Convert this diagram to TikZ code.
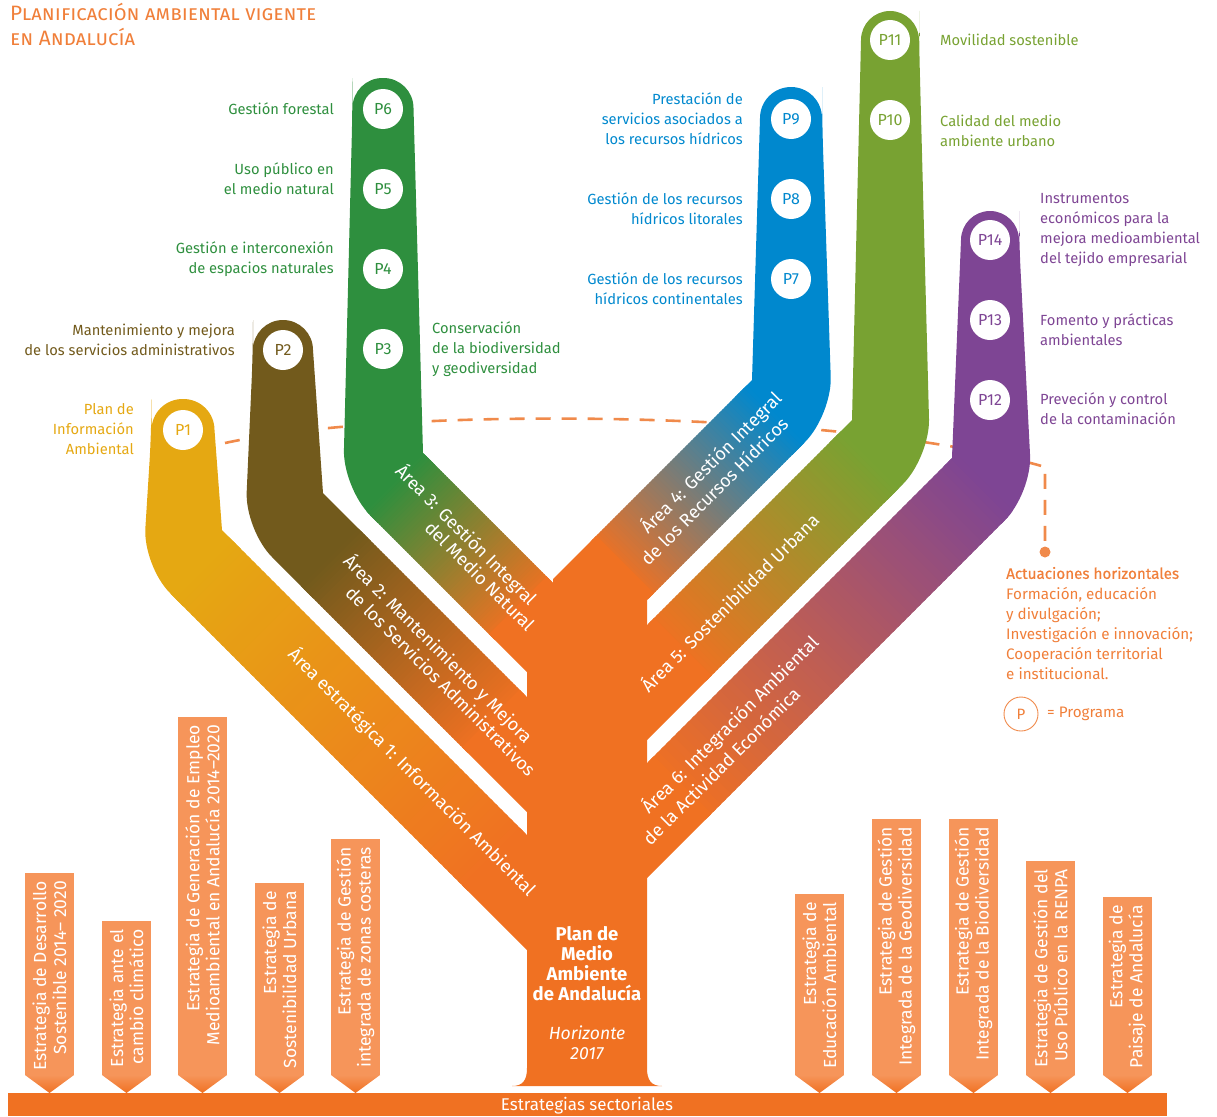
\documentclass[tikz,border=0pt]{standalone}
\usepackage{fontspec}
\setmainfont{Fira Sans}
\usetikzlibrary{calc}
\definecolor{cOr}{HTML}{F07122}
\definecolor{cYe}{HTML}{E5A812}
\definecolor{cBr}{HTML}{725A1C}
\definecolor{cGr}{HTML}{2E8F3E}
\definecolor{cBl}{HTML}{0088CE}
\definecolor{cOl}{HTML}{78A232}
\definecolor{cPu}{HTML}{7E4594}
\definecolor{cLt}{HTML}{F6955A}
\definecolor{cTi}{HTML}{F07F3A}
\definecolor{cDa}{HTML}{F08A4B}
\newcommand\bandgrad[5]{%
  \fill[#3] ($(#1)+(#4)+0.02*(#5)$) -- ($(#1)-(#4)+0.02*(#5)$) -- ($(#1)-(#4)-(#5)$) -- ($(#1)+(#4)-(#5)$) -- cycle;
  \foreach \i in {1,...,60}{%
    \pgfmathsetmacro\myta{(\i-1)/60}%
    \pgfmathsetmacro\mytb{min(1,(\i+0.5)/60)}%
    \pgfmathsetmacro\mypc{100-100*(\i-0.5)/60}%
    \fill[#3!\mypc!cOr] ($(#1)!\myta!(#2)+(#4)$) -- ($(#1)!\myta!(#2)-(#4)$) -- ($(#1)!\mytb!(#2)-(#4)$) -- ($(#1)!\mytb!(#2)+(#4)$) -- cycle;
  }%
  \fill[cOr] ($(#2)+(#4)-0.01*(#5)$) -- ($(#2)-(#4)-0.01*(#5)$) -- ($(#2)-(#4)+(#5)$) -- ($(#2)+(#4)+(#5)$) -- cycle;
}
\newcommand\stratbox[4]{%
  \fill[cLt] (#2,#3) rectangle ({#2+49},1075);
  \shade[top color=cLt, bottom color=cOr] (#2,1075) -- ({#2+49},1075) -- ({#2+24.5},1093) -- cycle;
  \node[strattxt] (#1) at ({#2+24.5},{#3+8}) {#4};
}
\begin{document}
\begin{tikzpicture}[x=1pt,y=-1pt,
  lbl/.style={font=\fontsize{14.7}{20}\selectfont, inner sep=0pt},
  lblL/.style={lbl, anchor=west, align=left},
  lblR/.style={lbl, anchor=east, align=right},
  pcirc/.style={circle, fill=white, minimum size=40pt, inner sep=0pt, font=\fontsize{16}{16}\selectfont},
  bandtxt/.style={text=white, font=\fontsize{18}{21}\selectfont, inner sep=0pt},
  strattxt/.style={text=white, rotate=90, anchor=east, align=right, font=\fontsize{17.5}{20}\selectfont, inner sep=0pt},
]
\useasboundingbox (0,0) rectangle (1217,1116);

% dashed guide line
\node[circle, fill=cDa, minimum size=11pt, inner sep=0pt] (dot) at (1045,552) {};
\coordinate (d0) at (225,443);
\coordinate (d1) at (1045,467);
\draw[cDa, line width=2.6pt, dash pattern=on 15pt off 11pt] (d0) .. controls (400,405) and (850,410) .. (d1) -- (dot.north);

% trunk
\fill[cOr] (527,590) -- (527,1068) .. controls (527,1080) and (523,1086) .. (512,1086) -- (662,1086) .. controls (651,1086) and (647,1080) .. (647,1068) -- (647,590) -- cycle;

% gradient anchors
\coordinate (a1) at (200,565); \coordinate (b1) at (497,862);
\coordinate (a2) at (330,557); \coordinate (b2) at (497,724);
\coordinate (a3) at (395,482); \coordinate (b3) at (524,611);
\coordinate (a4) at (775,414); \coordinate (b4) at (619,570);
\coordinate (a5) at (870,460); \coordinate (b5) at (677,653);
\coordinate (a6) at (985,483); \coordinate (b6) at (677,791);

% band 1
\begin{scope}
\clip (222,530) -- (214.5,430) [rounded corners=31pt] -- (214.5,399) -- (151.5,399) -- (151.5,430) [rounded corners=38pt] -- (143,566) [sharp corners] -- (535,958) -- (535,843) -- cycle;
\bandgrad{a1}{b1}{cYe}{300,-300}{600,600}
\end{scope}
% band 2
\begin{scope}
\clip (323,493) -- (313,350) [rounded corners=30pt] -- (313,320) -- (253,320) -- (253,350) [rounded corners=38pt] -- (245,530) [sharp corners] -- (535,820) -- (535,705) -- cycle;
\bandgrad{a2}{b2}{cBr}{300,-300}{600,600}
\end{scope}
% band 3
\begin{scope}
\clip (423,453) -- (413.5,108) [rounded corners=30pt] -- (413.5,78) -- (352.5,78) -- (352.5,108) [rounded corners=38pt] -- (343,488) [sharp corners] -- (553,698) -- (553,583) -- cycle;
\bandgrad{a3}{b3}{cGr}{300,-300}{600,600}
\end{scope}
% band 4
\begin{scope}
\clip (752,380) -- (760,118) [rounded corners=31pt] -- (760,87) -- (822,87) -- (822,118) [rounded corners=38pt] -- (832,415) [sharp corners] -- (553,694) -- (553,579) -- cycle;
\bandgrad{a4}{b4}{cBl}{300,300}{-600,600}
\end{scope}
% band 5
\begin{scope}
\clip (852,420) -- (861,40) [rounded corners=29pt] -- (861,11) -- (919,11) -- (919,40) [rounded corners=38pt] -- (930,457) [sharp corners] -- (639,748) -- (639,633) -- cycle;
\bandgrad{a5}{b5}{cOl}{300,300}{-600,600}
\end{scope}
% band 6
\begin{scope}
\clip (952,458) -- (961,240) [rounded corners=29pt] -- (961,211) -- (1019,211) -- (1019,240) [rounded corners=38pt] -- (1032,493) [sharp corners] -- (639,886) -- (639,771) -- cycle;
\bandgrad{a6}{b6}{cPu}{300,300}{-600,600}
\end{scope}

% programme circles
\node[pcirc, text=cYe] (p1) at (183,430) {P1};
\node[pcirc, text=cBr] (p2) at (283,350) {P2};
\node[pcirc, text=cGr] (p3) at (383,349) {P3};
\node[pcirc, text=cGr] (p4) at (383,269) {P4};
\node[pcirc, text=cGr] (p5) at (383,189) {P5};
\node[pcirc, text=cGr] (p6) at (383,109) {P6};
\node[pcirc, text=cBl] (p7) at (791,279) {P7};
\node[pcirc, text=cBl] (p8) at (791,199) {P8};
\node[pcirc, text=cBl] (p9) at (791,119) {P9};
\node[pcirc, text=cOl] (p10) at (890,120) {P10};
\node[pcirc, text=cOl] (p11) at (890,40) {P11};
\node[pcirc, text=cPu] (p12) at (990,400) {P12};
\node[pcirc, text=cPu] (p13) at (990,320) {P13};
\node[pcirc, text=cPu] (p14) at (990,240) {P14};

% band texts
\node[bandtxt, rotate=-45] (t1) at (412,772) {Área estratégica 1: Información Ambiental};
\node[bandtxt, rotate=-45] (t2a) at (438,649) {Área 2: Mantenimiento y Mejora};
\node[bandtxt, rotate=-45] (t2b) at (441,681) {de los Servicios Administrativos};
\node[bandtxt, rotate=-45] (t3a) at (466,535) {Área 3: Gestión Integral};
\node[bandtxt, rotate=-45] (t3b) at (480,576) {del Medio Natural};
\node[bandtxt, rotate=45] (t4a) at (711,463) {Área 4: Gestión Integral};
\node[bandtxt, rotate=45] (t4b) at (714,491) {de los Recursos Hídricos};
\node[bandtxt, rotate=45] (t5) at (729,602) {Área 5: Sostenibilidad Urbana};
\node[bandtxt, rotate=45] (t6a) at (730,725) {Área 6: Integración Ambiental};
\node[bandtxt, rotate=45] (t6b) at (721,766) {de la Actividad Económica};

% trunk text
\node[text=white, align=center, inner sep=0pt, font=\fontsize{18.5}{20}\selectfont\bfseries] (plan) at (587,964) {Plan de\\Medio\\Ambiente\\de Andalucía};
\node[text=white, align=center, inner sep=0pt, font=\fontsize{17.6}{20}\selectfont\itshape] (hor) at (587,1043) {Horizonte\\2017};

% programme labels
\node[lblR, text=cYe] (l1) at (134,429.5) {Plan de\\Información\\Ambiental};
\node[lblR, text=cBr] (l2) at (235,340) {Mantenimiento y mejora\\de los servicios administrativos};
\node[lblR, text=cGr] (l6) at (334,109) {Gestión forestal};
\node[lblR, text=cGr] (l5) at (334,179) {Uso público en\\el medio natural};
\node[lblR, text=cGr] (l4) at (334,259) {Gestión e interconexión\\de espacios naturales};
\node[lblL, text=cGr] (l3) at (432,349) {Conservación\\de la biodiversidad\\y geodiversidad};
\node[lblR, text=cBl] (l9) at (743,119) {Prestación de\\servicios asociados a\\los recursos hídricos};
\node[lblR, text=cBl] (l8) at (743,209) {Gestión de los recursos\\hídricos litorales};
\node[lblR, text=cBl] (l7) at (743,289) {Gestión de los recursos\\hídricos continentales};
\node[lblL, text=cOl] (l11) at (940,40) {Movilidad sostenible};
\node[lblL, text=cOl] (l10) at (940,131) {Calidad del medio\\ambiente urbano};
\node[lblL, text=cPu] (l14) at (1040,230) {Instrumentos\\económicos para la\\mejora medioambiental\\del tejido empresarial};
\node[lblL, text=cPu] (l13) at (1040,330) {Fomento y prácticas\\ambientales};
\node[lblL, text=cPu] (l12) at (1040,409) {Preveción y control\\de la contaminación};

% legend
\node[lblL, text=cTi, font=\fontsize{15.2}{20.2}\selectfont] (leg) at (1006,623.5) {{\addfontfeature{FakeBold=0.6}Actuaciones horizontales}\\Formación, educación\\y divulgación;\\Investigación e innovación;\\Cooperación territorial\\e institucional.};
\node[circle, draw=cDa, line width=0.9pt, fill=white, minimum size=34pt, inner sep=0pt, text=cTi, font=\fontsize{15}{16}\selectfont] (legp) at (1021,714) {P};
\node[lblL, text=cTi, font=\fontsize{15.2}{20}\selectfont] (legt) at (1047,714) {= Programa};

% title
\node[anchor=north west, text=cTi, align=left, inner sep=0pt, font=\fontsize{20.8}{25}\selectfont\scshape] (title) at (10,3) {Planificación ambiental vigente\\en Andalucía};

% sectoral strategies
\stratbox{s1}{25}{873}{Estrategia de Desarrollo\\Sostenible 2014– 2020}
\stratbox{s2}{102}{921}{Estrategia ante el\\cambio climático}
\stratbox{s3}{178}{717}{Estrategia de Generación de Empleo\\Medioambiental en Andalucía 2014–2020}
\stratbox{s4}{255}{883}{Estrategia de\\Sostenibilidad Urbana}
\stratbox{s5}{331}{839}{Estrategia de Gestión\\integrada de zonas costeras}
\stratbox{s6}{795}{894}{Estrategia de\\Educación Ambiental}
\stratbox{s7}{872}{819}{Estrategia de Gestión\\Integrada de la Geodiversidad}
\stratbox{s8}{949}{819}{Estrategia de Gestión\\Integrada de la Biodiversidad}
\stratbox{s9}{1026}{861}{Estrategia de Gestión del\\Uso Público en la RENPA}
\stratbox{s10}{1103}{897}{Estrategia de\\Paisaje de Andalucía}

% bottom bar
\fill[cOr] (8,1093) rectangle (1167,1116);
\node[text=white, inner sep=0pt, font=\fontsize{17}{18}\selectfont] (bar) at (587,1106) {Estrategias sectoriales};
\end{tikzpicture}
\end{document}
